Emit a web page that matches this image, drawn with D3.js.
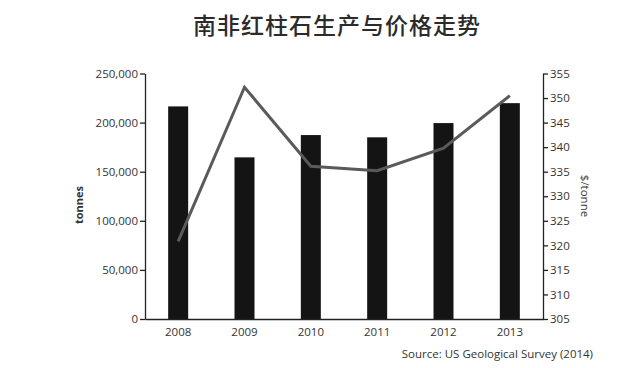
<!DOCTYPE html>
<html>
<head>
<meta charset="utf-8">
<script src="https://cdn.jsdelivr.net/npm/d3@7"></script>
<style>
  html, body { margin: 0; padding: 0; background: #fff; }
  svg { display: block; }
  .tick text { font-family: "Open Sans", sans-serif; }
</style>
</head>
<body>
<svg id="chart" width="631" height="368"></svg>
<script>
const title = "南非红柱石生产与价格走势";
const years = ["2008", "2009", "2010", "2011", "2012", "2013"];
const production = [216500, 164600, 187300, 185000, 199500, 219800];
const price = [320.8, 352.2, 336.1, 335.2, 339.8, 350.5];
const leftTicks = [0, 50000, 100000, 150000, 200000, 250000];
const rightTicks = [305, 310, 315, 320, 325, 330, 335, 340, 345, 350, 355];
const leftLabel = "tonnes";
const rightLabel = "$/tonne";
const source = "Source: US Geological Survey (2014)";

const svg = d3.select("#chart");
const m = { left: 145, right: 543, top: 73.5, bottom: 319 };

const x = d3.scaleBand().domain(years).range([m.left, m.right]).paddingInner(0).paddingOuter(0);
const yL = d3.scaleLinear().domain([0, 250000]).range([m.bottom, m.top]);
const yR = d3.scaleLinear().domain([305, 355]).range([m.bottom, m.top]);
const barW = 20;

svg.append("text")
  .attr("x", 337).attr("y", 34)
  .attr("text-anchor", "middle")
  .attr("font-family", "'Noto Sans CJK SC', sans-serif")
  .attr("font-weight", 500)
  .attr("font-size", 23)
  .attr("letter-spacing", 1)
  .attr("fill", "#2b2b2b")
  .text(title);

// bars
svg.append("g").selectAll("rect").data(years).join("rect")
  .attr("x", (d) => x(d) + x.bandwidth() / 2 - barW / 2)
  .attr("width", barW)
  .attr("y", (d, i) => yL(production[i]))
  .attr("height", (d, i) => yL(0) - yL(production[i]))
  .attr("fill", "#141414");

// line
const line = d3.line()
  .x((d, i) => x(years[i]) + x.bandwidth() / 2)
  .y((d) => yR(d));
svg.append("path")
  .datum(price)
  .attr("d", line)
  .attr("fill", "none")
  .attr("stroke", "#5a5a5a")
  .attr("stroke-width", 3)
  .attr("stroke-linejoin", "miter");

// left axis
const gL = svg.append("g").attr("transform", `translate(${m.left},0)`)
  .call(d3.axisLeft(yL).tickValues(leftTicks).tickFormat(d3.format(",")).tickSize(5).tickSizeOuter(0));
gL.selectAll("text").attr("font-size", 11.5).attr("fill", "#333").attr("x", -7);
gL.selectAll("line, path").attr("stroke", "#222").attr("stroke-width", 1.3);

// right axis
const gR = svg.append("g").attr("transform", `translate(${m.right},0)`)
  .call(d3.axisRight(yR).tickValues(rightTicks).tickSize(5).tickSizeOuter(0));
gR.selectAll("text").attr("font-size", 11.5).attr("fill", "#333").attr("x", 7);
gR.selectAll("line, path").attr("stroke", "#222").attr("stroke-width", 1.3);

// bottom axis
const gB = svg.append("g").attr("transform", `translate(0,${m.bottom})`)
  .call(d3.axisBottom(x).tickSize(0).tickSizeOuter(0));
gB.selectAll("text").attr("font-size", 11.5).attr("fill", "#333").attr("dy", "1.2em");
gB.select("path").attr("stroke", "#222").attr("stroke-width", 1.5);

// axis titles
svg.append("text")
  .attr("transform", "translate(83,205) rotate(-90)")
  .attr("text-anchor", "middle")
  .attr("font-family", "'Open Sans', sans-serif")
  .attr("font-weight", "bold")
  .attr("font-size", 11)
  .attr("fill", "#333")
  .text(leftLabel);

svg.append("text")
  .attr("transform", "translate(581,196) rotate(90)")
  .attr("text-anchor", "middle")
  .attr("font-family", "'Open Sans', sans-serif")
  .attr("font-size", 11.5)
  .attr("fill", "#333")
  .text(rightLabel);

svg.append("text")
  .attr("x", 593).attr("y", 358)
  .attr("text-anchor", "end")
  .attr("font-family", "'Open Sans', sans-serif")
  .attr("font-size", 11.5)
  .attr("fill", "#333")
  .text(source);
</script>
</body>
</html>
